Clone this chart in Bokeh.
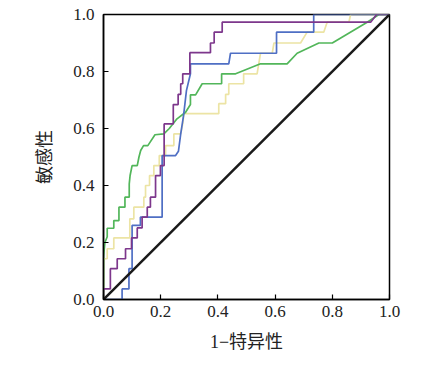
from bokeh.plotting import figure
from bokeh.models import Range1d, FixedTicker, NumeralTickFormatter
from bokeh.embed import file_html
from bokeh.resources import INLINE

# ROC curves: vertices (1 - specificity, sensitivity)
purple_x = [0, 0, 0.024, 0.024, 0.048, 0.048, 0.077, 0.077, 0.098, 0.098, 0.118, 0.118,
            0.135, 0.135, 0.153, 0.153, 0.164, 0.164, 0.182, 0.182, 0.199, 0.199, 0.212, 0.212,
            0.244, 0.244, 0.261, 0.261, 0.27, 0.27, 0.277, 0.277, 0.302, 0.302, 0.374, 0.374,
            0.387, 0.387, 0.415, 0.415, 0.934, 0.955, 1.0]
purple_y = [0, 0.037, 0.037, 0.108, 0.108, 0.143, 0.143, 0.178, 0.178, 0.216, 0.216, 0.251,
            0.251, 0.289, 0.289, 0.324, 0.324, 0.359, 0.359, 0.435, 0.435, 0.47, 0.47, 0.616,
            0.616, 0.684, 0.684, 0.72, 0.72, 0.757, 0.757, 0.792, 0.792, 0.866, 0.866, 0.90,
            0.90, 0.938, 0.938, 0.973, 0.973, 1.0, 1.0]

blue_x = [0, 0.065, 0.065, 0.089, 0.089, 0.1, 0.1, 0.129, 0.129, 0.205, 0.205, 0.252,
          0.252, 0.262, 0.27, 0.28, 0.29, 0.304, 0.304, 0.316, 0.438, 0.444, 0.605,
          0.605, 0.735, 0.735, 1.0]
blue_y = [0, 0, 0.037, 0.037, 0.108, 0.108, 0.26, 0.26, 0.289, 0.289, 0.505, 0.505,
          0.505, 0.52, 0.581, 0.646, 0.733, 0.792, 0.827, 0.827, 0.827, 0.864, 0.864,
          0.938, 0.938, 1.0, 1.0]

yellow_x = [0, 0, 0.013, 0.013, 0.036, 0.036, 0.092, 0.092, 0.106, 0.106, 0.141, 0.141,
            0.147, 0.147, 0.161, 0.161, 0.176, 0.176, 0.195, 0.195, 0.217, 0.217, 0.246,
            0.246, 0.27, 0.277, 0.281, 0.403, 0.403, 0.427, 0.427, 0.438, 0.438, 0.49, 0.49,
            0.537, 0.549, 0.59, 0.596, 0.689, 0.712, 0.77, 0.782, 0.858, 0.864, 1.0]
yellow_y = [0, 0.143, 0.143, 0.178, 0.178, 0.216, 0.216, 0.283, 0.283, 0.324, 0.324, 0.359,
            0.359, 0.40, 0.40, 0.435, 0.435, 0.47, 0.47, 0.505, 0.505, 0.54, 0.54,
            0.581, 0.581, 0.616, 0.652, 0.652, 0.687, 0.687, 0.72, 0.72, 0.757, 0.757, 0.792,
            0.792, 0.864, 0.864, 0.90, 0.90, 0.938, 0.938, 0.973, 0.973, 1.0, 1.0]

green_x = [0, 0, 0.005, 0.013, 0.013, 0.036, 0.036, 0.054, 0.054, 0.075, 0.075, 0.09, 0.09,
           0.093, 0.1, 0.118, 0.124, 0.13, 0.14, 0.155, 0.18, 0.211, 0.23, 0.257, 0.287,
           0.304, 0.304, 0.322, 0.345, 0.413, 0.413, 0.462, 0.549, 0.642, 0.677, 0.753, 0.8,
           0.922, 0.963, 1.0]
green_y = [0, 0.15, 0.2, 0.22, 0.25, 0.25, 0.277, 0.277, 0.324, 0.324, 0.359, 0.359, 0.406,
           0.435, 0.47, 0.47, 0.5, 0.523, 0.54, 0.54, 0.578, 0.581, 0.6, 0.634, 0.657,
           0.684, 0.718, 0.718, 0.757, 0.757, 0.792, 0.792, 0.827, 0.827, 0.864, 0.9, 0.9,
           0.973, 1.0, 1.0]

ref_x = [0, 1]
ref_y = [0, 1]

ticks = [0, 0.2, 0.4, 0.6, 0.8, 1.0]

p = figure(width=428, height=358, output_backend="svg", toolbar_location=None,
           x_range=Range1d(0, 1), y_range=Range1d(0, 1),
           min_border_left=103, min_border_right=39, min_border_top=14, min_border_bottom=59)

p.line(yellow_x, yellow_y, line_color="#ece4a4", line_width=1.7)
p.line(green_x, green_y, line_color="#52b65a", line_width=1.7)
p.line(blue_x, blue_y, line_color="#4f6fc4", line_width=1.7)
p.line(purple_x, purple_y, line_color="#7d378c", line_width=1.7)
p.line(ref_x, ref_y, line_color="#1a1a1a", line_width=2.5)

p.xgrid.visible = False
p.ygrid.visible = False
p.outline_line_color = "black"
p.outline_line_width = 1.5
p.background_fill_color = "white"
p.border_fill_color = "white"

for ax in (p.xaxis[0], p.yaxis[0]):
    ax.ticker = FixedTicker(ticks=ticks)
    ax.formatter = NumeralTickFormatter(format="0.0")
    ax.major_tick_in = 5
    ax.major_tick_out = 0
    ax.minor_tick_line_color = None
    ax.axis_line_color = "black"
    ax.axis_line_width = 1.5
    ax.major_tick_line_color = "black"
    ax.major_tick_line_width = 1.2
    ax.major_label_text_font = "'Liberation Serif'"
    ax.major_label_text_font_size = "17px"
    ax.major_label_text_color = "#222222"
    ax.axis_label_text_font = "'Liberation Serif', 'Noto Sans CJK SC'"
    ax.axis_label_text_font_size = "18px"
    ax.axis_label_text_font_style = "normal"
    ax.axis_label_text_color = "#222222"

p.xaxis[0].axis_label = "1−特异性"
p.yaxis[0].axis_label = "敏感性"
p.xaxis[0].major_label_standoff = 6
p.yaxis[0].major_label_standoff = 9
p.xaxis[0].axis_label_standoff = 12
p.yaxis[0].axis_label_standoff = 15

open("out.html", "w").write(file_html(p, INLINE))
